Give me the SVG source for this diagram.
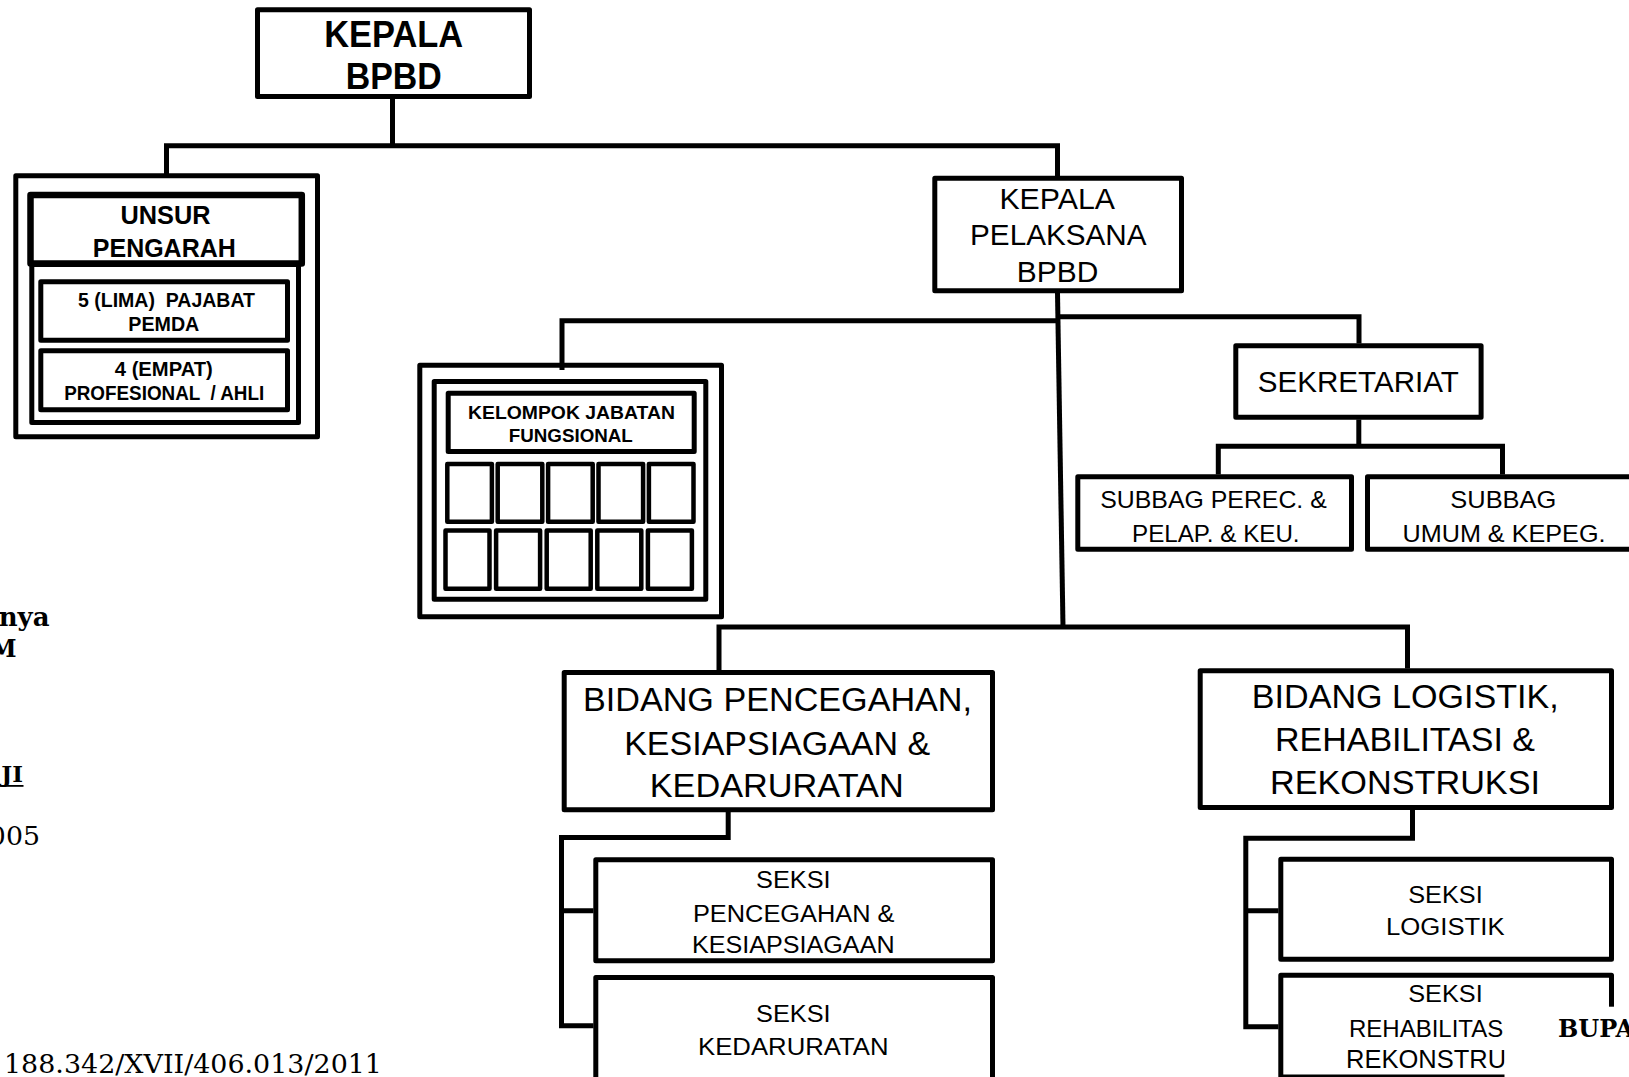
<svg xmlns="http://www.w3.org/2000/svg" width="1629" height="1077" viewBox="0 0 1629 1077">
  <style>
    .box { fill: none; stroke: #000; stroke-width: 5; stroke-linejoin: round; }
    .cell { fill: none; stroke: #000; stroke-width: 4.5; stroke-linejoin: round; }
    .conn { fill: none; stroke: #000; stroke-width: 5; stroke-linejoin: miter; stroke-linecap: butt; }
    .sb { font-family: "Liberation Sans", Arial, sans-serif; font-weight: bold; text-anchor: middle; fill: #000; white-space: pre; }
    .sr { font-family: "Liberation Sans", Arial, sans-serif; text-anchor: middle; fill: #000; white-space: pre; }
    .serif { font-family: "DejaVu Serif", "Liberation Serif", serif; fill: #000; }
  </style>
  <rect x="0" y="0" width="1629" height="1077" fill="#fff"/>

  <!-- Kepala BPBD -->
  <g id="kepala-bpbd">
    <rect class="box" x="257.5" y="9.8" width="272" height="86.7"/>
    <text class="sb" font-size="36" x="393.7" y="46.7" textLength="139" lengthAdjust="spacingAndGlyphs">KEPALA</text>
    <text class="sb" font-size="36" x="393.7" y="89.3" textLength="96" lengthAdjust="spacingAndGlyphs">BPBD</text>
  </g>

  <!-- Unsur Pengarah -->
  <g id="unsur-pengarah">
    <rect class="box" x="15.8" y="175.8" width="301.7" height="261"/>
    <rect class="box" x="31.8" y="264.5" width="266.7" height="158"/>
    <rect class="box" style="stroke-width:6.5" x="30.5" y="195" width="271.3" height="68.4"/>
    <text class="sb" font-size="25" x="165.5" y="224" textLength="90" lengthAdjust="spacingAndGlyphs">UNSUR</text>
    <text class="sb" font-size="25" x="164.3" y="256.7" textLength="143" lengthAdjust="spacingAndGlyphs">PENGARAH</text>
    <rect class="box" x="40.8" y="281.8" width="246.7" height="58.4"/>
    <text class="sb" font-size="20" x="166.5" y="307.3" textLength="177" lengthAdjust="spacingAndGlyphs">5 (LIMA)  PAJABAT</text>
    <text class="sb" font-size="20" x="163.8" y="330.7" textLength="71" lengthAdjust="spacingAndGlyphs">PEMDA</text>
    <rect class="box" x="40.8" y="350.8" width="246.7" height="59"/>
    <text class="sb" font-size="20" x="163.8" y="375.7" textLength="98" lengthAdjust="spacingAndGlyphs">4 (EMPAT)</text>
    <text class="sb" font-size="20" x="164.2" y="400" textLength="200" lengthAdjust="spacingAndGlyphs">PROFESIONAL  / AHLI</text>
  </g>

  <!-- Kelompok Jabatan Fungsional -->
  <g id="kelompok-jabatan-fungsional">
    <rect class="box" x="419.8" y="365.2" width="301.7" height="251.6"/>
    <rect class="box" x="434.2" y="381.5" width="271.6" height="217.7"/>
    <rect class="box" x="448.2" y="393.2" width="246" height="58.3"/>
    <text class="sb" font-size="18" x="571.5" y="419" textLength="207" lengthAdjust="spacingAndGlyphs">KELOMPOK JABATAN</text>
    <text class="sb" font-size="18" x="570.8" y="442.3" textLength="124" lengthAdjust="spacingAndGlyphs">FUNGSIONAL</text>
    <rect class="cell" x="447.3" y="464" width="44.6" height="57.8"/>
    <rect class="cell" x="497.7" y="464" width="44.6" height="57.8"/>
    <rect class="cell" x="548.1" y="464" width="44.6" height="57.8"/>
    <rect class="cell" x="598.5" y="464" width="44.6" height="57.8"/>
    <rect class="cell" x="648.9" y="464" width="44.6" height="57.8"/>
    <rect class="cell" x="445.5" y="530.5" width="44" height="58.2"/>
    <rect class="cell" x="496.1" y="530.5" width="44" height="58.2"/>
    <rect class="cell" x="546.7" y="530.5" width="44" height="58.2"/>
    <rect class="cell" x="597.3" y="530.5" width="44" height="58.2"/>
    <rect class="cell" x="647.9" y="530.5" width="44" height="58.2"/>
  </g>

  <!-- Kepala Pelaksana BPBD -->
  <g id="kepala-pelaksana">
    <rect class="box" x="934.8" y="178.2" width="246.7" height="112.6"/>
    <text class="sr" font-size="30" x="1057.2" y="209" textLength="115.5" lengthAdjust="spacingAndGlyphs">KEPALA</text>
    <text class="sr" font-size="30" x="1058.3" y="245" textLength="176.5" lengthAdjust="spacingAndGlyphs">PELAKSANA</text>
    <text class="sr" font-size="30" x="1057.5" y="281.7" textLength="81.5" lengthAdjust="spacingAndGlyphs">BPBD</text>
  </g>

  <!-- Sekretariat -->
  <g id="sekretariat">
    <rect class="box" x="1235.8" y="345.8" width="245.3" height="71.4"/>
    <text class="sr" font-size="30" x="1358.3" y="392" textLength="201" lengthAdjust="spacingAndGlyphs">SEKRETARIAT</text>
  </g>

  <g id="subbag-perencanaan">
    <rect class="box" x="1077.8" y="476.8" width="273.7" height="72.4"/>
    <text class="sr" font-size="24" x="1213.5" y="507.7" textLength="226.5" lengthAdjust="spacingAndGlyphs">SUBBAG PEREC. &amp;</text>
    <text class="sr" font-size="24" x="1215.8" y="541.7" textLength="167.5" lengthAdjust="spacingAndGlyphs">PELAP. &amp; KEU.</text>
  </g>

  <g id="subbag-umum">
    <rect class="box" x="1367.5" y="476.8" width="290" height="72.4"/>
    <text class="sr" font-size="24" x="1503.3" y="507.7" textLength="106" lengthAdjust="spacingAndGlyphs">SUBBAG</text>
    <text class="sr" font-size="24" x="1504" y="541.7" textLength="203" lengthAdjust="spacingAndGlyphs">UMUM &amp; KEPEG.</text>
  </g>

  <!-- Bidang Pencegahan -->
  <g id="bidang-pencegahan">
    <rect class="box" x="564.2" y="672.5" width="428.3" height="137.3"/>
    <text class="sr" font-size="33.5" x="777.5" y="711" textLength="389" lengthAdjust="spacingAndGlyphs">BIDANG PENCEGAHAN,</text>
    <text class="sr" font-size="33.5" x="777.2" y="755" textLength="306" lengthAdjust="spacingAndGlyphs">KESIAPSIAGAAN &amp;</text>
    <text class="sr" font-size="33.5" x="776.7" y="796.7" textLength="254" lengthAdjust="spacingAndGlyphs">KEDARURATAN</text>
  </g>

  <g id="seksi-pencegahan">
    <rect class="box" x="595.8" y="859.8" width="396.7" height="101"/>
    <text class="sr" font-size="23.5" x="793.3" y="888.3" textLength="74.5" lengthAdjust="spacingAndGlyphs">SEKSI</text>
    <text class="sr" font-size="23.5" x="793.7" y="921.7" textLength="201.5" lengthAdjust="spacingAndGlyphs">PENCEGAHAN &amp;</text>
    <text class="sr" font-size="23.5" x="793.3" y="953.3" textLength="202.5" lengthAdjust="spacingAndGlyphs">KESIAPSIAGAAN</text>
  </g>

  <g id="seksi-kedaruratan">
    <rect class="box" x="595.8" y="977.5" width="396.7" height="130"/>
    <text class="sr" font-size="23.5" x="793.3" y="1021.7" textLength="74.5" lengthAdjust="spacingAndGlyphs">SEKSI</text>
    <text class="sr" font-size="23.5" x="793.3" y="1055" textLength="190.5" lengthAdjust="spacingAndGlyphs">KEDARURATAN</text>
  </g>

  <!-- Bidang Logistik -->
  <g id="bidang-logistik">
    <rect class="box" x="1200.2" y="670.8" width="411.3" height="136.7"/>
    <text class="sr" font-size="33.5" x="1405.3" y="708.3" textLength="307" lengthAdjust="spacingAndGlyphs">BIDANG LOGISTIK,</text>
    <text class="sr" font-size="33.5" x="1405" y="751" textLength="260" lengthAdjust="spacingAndGlyphs">REHABILITASI &amp;</text>
    <text class="sr" font-size="33.5" x="1405" y="794.3" textLength="270" lengthAdjust="spacingAndGlyphs">REKONSTRUKSI</text>
  </g>

  <g id="seksi-logistik">
    <rect class="box" x="1280.8" y="859.2" width="330.7" height="100"/>
    <text class="sr" font-size="23.5" x="1445.5" y="903.3" textLength="74.5" lengthAdjust="spacingAndGlyphs">SEKSI</text>
    <text class="sr" font-size="23.5" x="1445.3" y="935" textLength="118.5" lengthAdjust="spacingAndGlyphs">LOGISTIK</text>
  </g>

  <g id="seksi-rehabilitasi">
    <rect class="box" x="1280.8" y="975.2" width="330.7" height="101.8"/>
    <text class="sr" font-size="23.5" x="1445.5" y="1001.7" textLength="74.5" lengthAdjust="spacingAndGlyphs">SEKSI</text>
    <text class="sr" font-size="24" x="1349" y="1036.7" style="text-anchor:start">REHABILITASI &amp;</text>
    <text class="sr" font-size="25.5" x="1346" y="1068.3" style="text-anchor:start">REKONSTRUKSI</text>
  </g>

  <!-- Connectors -->
  <g id="connectors">
    <path class="conn" d="M392.5,99 V145.8"/>
    <path class="conn" d="M166.5,174 V145.8 H1057.5 V176"/>
    <path class="conn" d="M1057.5,293 L1063,627"/>
    <path class="conn" d="M562,370 V320.7 H1058"/>
    <path class="conn" d="M1058,316.7 H1359 V343.5"/>
    <path class="conn" d="M1358.8,419.5 V446.3"/>
    <path class="conn" d="M1218.3,474.5 V446.3 H1502.5 V474.5"/>
    <path class="conn" d="M719,670 V627 H1407.5 V668.5"/>
    <path class="conn" d="M728.2,812 V837.5 H561.5 V1025.8 H593.5"/>
    <path class="conn" d="M561.5,910.8 H593.5"/>
    <path class="conn" d="M1412.5,810 V838.3 H1245.8 V1026.8 H1278.5"/>
    <path class="conn" d="M1245.8,910.8 H1278.5"/>
  </g>

  <!-- Page text around the chart -->
  <g id="page-text">
    <text class="serif" font-size="26" font-weight="bold" x="49.5" y="625.7" text-anchor="end">nya</text>
    <text class="serif" font-size="24" font-weight="bold" x="16.5" y="656.7" text-anchor="end">M</text>
    <text class="serif" font-size="23" font-weight="bold" x="23" y="781.7" text-anchor="end">JI</text>
    <rect x="0" y="785" width="23.5" height="1.8" fill="#000"/>
    <text class="serif" font-size="26.8" x="40" y="845" text-anchor="end">005</text>
    <text class="serif" font-size="26.8" x="4" y="1073.3" textLength="378" lengthAdjust="spacingAndGlyphs">188.342/XVII/406.013/2011</text>
    <rect x="1504.5" y="1006.7" width="125" height="71" fill="#fff"/>
    <text class="serif" font-size="24" font-weight="bold" x="1558" y="1036.5">BUPA</text>
  </g>
</svg>
